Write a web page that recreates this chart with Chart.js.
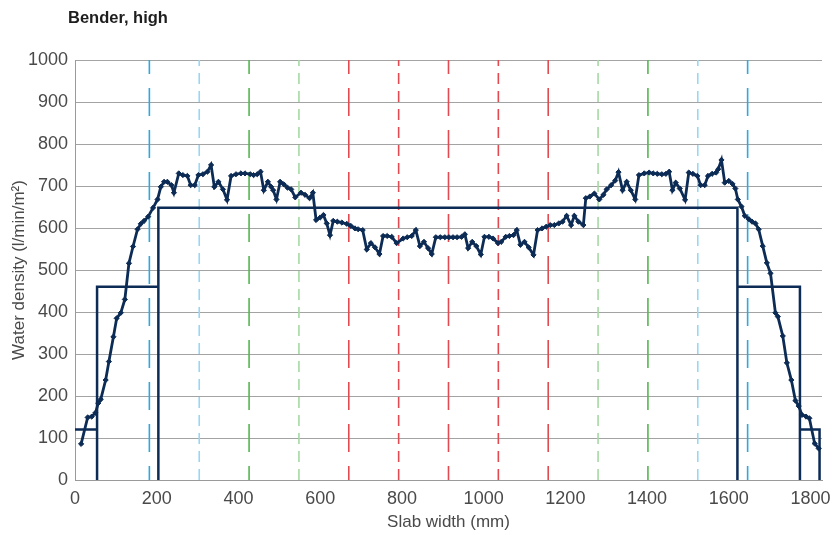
<!DOCTYPE html>
<html>
<head>
<meta charset="utf-8">
<script src="https://cdn.jsdelivr.net/npm/chart.js@4"></script>
<style>
  html, body { margin: 0; padding: 0; background: #fff; }
  #wrap { width: 834px; height: 535px; }
</style>
</head>
<body>
<div id="wrap"><canvas id="myChart" width="834" height="535"></canvas></div>
<script>
const ctx = document.getElementById('myChart').getContext('2d');

// measured water density along the slab
const posMm = [15, 31, 41, 50, 57, 63, 75, 83, 94, 102, 112, 122, 132, 142, 153, 161, 169, 179, 191, 202,
  210, 218, 226, 236, 242, 254, 264, 275, 283, 293, 302, 313, 324, 333, 341, 351, 362, 372, 382, 394,
  406, 416, 429, 437, 446, 454, 462, 472, 480, 485, 493, 502, 511, 520, 529, 539, 553, 563, 574, 582,
  590, 600, 608, 616, 624, 632, 642, 653, 665, 675, 685, 693, 704, 714, 724, 734, 745, 754, 764, 775,
  787, 803, 813, 824, 834, 844, 854, 864, 873, 883, 894, 905, 915, 925, 935, 946, 954, 962, 972, 982,
  993, 1002, 1013, 1023, 1035, 1043, 1054, 1063, 1073, 1081, 1090, 1100, 1110, 1122, 1132, 1143, 1153, 1163, 1173, 1184,
  1193, 1203, 1214, 1222, 1232, 1244, 1250, 1260, 1271, 1283, 1293, 1301, 1312, 1322, 1330, 1340, 1350, 1360, 1371, 1380,
  1393, 1405, 1415, 1425, 1436, 1446, 1454, 1462, 1470, 1480, 1493, 1502, 1512, 1523, 1531, 1541, 1549, 1559, 1569, 1574,
  1582, 1590, 1600, 1609, 1616, 1622, 1631, 1639, 1649, 1657, 1665, 1673, 1683, 1693, 1702, 1714, 1720, 1732, 1742, 1753,
  1763, 1771, 1779, 1789, 1797, 1810, 1820];
const density = [86, 149, 151, 160, 183, 192, 238, 282, 341, 385, 398, 430, 516, 556, 597, 610, 617, 627, 648, 668,
  698, 710, 710, 702, 684, 730, 726, 724, 702, 702, 726, 728, 734, 750, 698, 710, 692, 667, 724, 728,
  730, 730, 728, 726, 728, 734, 690, 710, 698, 690, 668, 710, 704, 696, 692, 673, 684, 679, 671, 684,
  619, 625, 631, 611, 583, 617, 615, 613, 610, 605, 599, 597, 595, 549, 564, 554, 538, 581, 581, 579,
  564, 575, 578, 581, 595, 557, 567, 552, 538, 578, 578, 578, 578, 578, 578, 579, 585, 552, 567, 557,
  537, 579, 579, 575, 564, 567, 579, 581, 583, 595, 560, 567, 554, 536, 595, 599, 603, 607, 607, 611,
  615, 629, 607, 629, 615, 607, 671, 675, 682, 668, 679, 692, 702, 713, 733, 690, 710, 690, 668, 726,
  730, 732, 730, 729, 728, 729, 734, 690, 708, 694, 667, 732, 729, 724, 702, 702, 724, 729, 732, 740,
  762, 708, 712, 705, 694, 668, 651, 629, 621, 615, 611, 597, 557, 517, 492, 398, 389, 343, 279, 238,
  189, 176, 155, 151, 147, 87, 75];

// design (nozzle layout) outline
const stepX = [0, 54, 54, 54, 204, 204, 204, 1621, 1621, 1621, 1774, 1774, 1774, 1822, 1822];
const stepY = [120, 120, 0, 460, 460, 0, 648, 648, 0, 460, 460, 0, 120, 120, 0];

// spray row positions and their zone
const nozzleX = [182, 304, 426, 548, 670, 792, 914, 1036, 1158, 1280, 1402, 1524, 1646];
const nozzleZone = ['blue', 'lightblue', 'green', 'lightgreen', 'red', 'redshort', 'red',
  'redshort', 'red', 'lightgreen', 'green', 'lightblue', 'blue'];

const yTicks = [0, 100, 200, 300, 400, 500, 600, 700, 800, 900, 1000];
const xTicks = [0, 200, 400, 600, 800, 1000, 1200, 1400, 1600, 1800];

const NAVY = '#0c2b55';
const zoneStyle = {
  blue:       { color: '#2aaae2', dash: [28, 14], offset: 14 },
  lightblue:  { color: '#96d8f4', dash: [11, 7], offset: 0 },
  green:      { color: '#56b653', dash: [28, 14], offset: 14 },
  lightgreen: { color: '#a6d9a2', dash: [11, 7], offset: 0 },
  red:        { color: '#e24a52', dash: [28, 14], offset: 14 },
  redshort:   { color: '#e24a52', dash: [11, 7], offset: 0 }
};

const FONT = "'Liberation Sans', Arial, sans-serif";

const nozzleSets = nozzleX.map((x, i) => {
  const st = zoneStyle[nozzleZone[i]];
  return {
    label: 'row ' + (i + 1),
    data: [{x: x, y: 0}, {x: x, y: 1000}],
    borderColor: st.color,
    borderWidth: 1.6,
    borderDash: st.dash,
    borderDashOffset: st.offset,
    pointRadius: 0,
    order: 3
  };
});

const titlePlugin = {
  id: 'cornerTitle',
  afterDraw(chart) {
    const c = chart.ctx;
    c.save();
    c.font = "bold 16.5px " + FONT;
    c.fillStyle = '#1e1e1e';
    c.textBaseline = 'middle';
    c.textAlign = 'left';
    c.fillText('Bender, high', 68, 18);
    c.restore();
  }
};

new Chart(ctx, {
  type: 'line',
  data: {
    datasets: [
      {
        label: 'Measured',
        data: posMm.map((x, i) => ({x: x, y: density[i]})),
        borderColor: NAVY,
        backgroundColor: NAVY,
        borderWidth: 2.8,
        pointStyle: 'rectRot',
        pointRadius: 2.6,
        pointBorderWidth: 1,
        pointBackgroundColor: NAVY,
        tension: 0,
        order: 1
      },
      {
        label: 'Design',
        data: stepX.map((x, i) => ({x: x, y: stepY[i]})),
        borderColor: NAVY,
        borderWidth: 2.5,
        pointRadius: 0,
        tension: 0,
        order: 2
      },
      ...nozzleSets
    ]
  },
  options: {
    responsive: false,
    animation: false,
    layout: { padding: { top: 60, right: 12, bottom: 0, left: 0 } },
    plugins: {
      legend: { display: false },
      tooltip: { enabled: false }
    },
    scales: {
      x: {
        type: 'linear',
        min: 0,
        max: 1828,
        afterBuildTicks(axis) {
          axis.ticks = xTicks.map(v => ({value: v}));
        },
        afterFit(scale) { scale.height = 55; },
        grid: {
          display: true,
          drawOnChartArea: false,
          drawTicks: true,
          tickLength: 8,
          tickColor: 'rgba(0,0,0,0)'
        },
        border: { display: true, color: '#9a9a9a', width: 1 },
        ticks: {
          color: '#4a4a4a',
          font: { family: FONT, size: 18 },
          padding: 0,
          maxRotation: 0,
          callback: (value) => String(value)
        },
        title: {
          display: true,
          text: 'Slab width (mm)',
          color: '#4a4a4a',
          font: { family: FONT, size: 17 },
          padding: { top: 2, bottom: 2 }
        }
      },
      y: {
        min: 0,
        max: 1000,
        afterBuildTicks(axis) {
          axis.ticks = yTicks.map(v => ({value: v}));
        },
        afterFit(scale) { scale.width = 75; },
        grid: { color: '#a3a3a3', lineWidth: 1, drawTicks: false },
        border: { display: true, color: '#9a9a9a', width: 1 },
        ticks: {
          color: '#4a4a4a',
          font: { family: FONT, size: 18 },
          padding: 7,
          callback: (value) => String(value)
        },
        title: {
          display: true,
          text: 'Water density (l/min/m²)',
          color: '#4a4a4a',
          font: { family: FONT, size: 17 },
          padding: { top: 9, bottom: 0 }
        }
      }
    }
  },
  plugins: [titlePlugin]
});
</script>
</body>
</html>
